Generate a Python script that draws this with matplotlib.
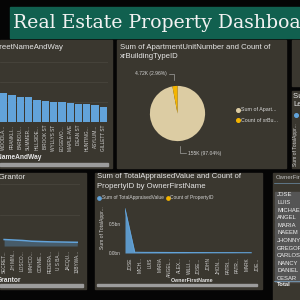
import numpy as np
import matplotlib
matplotlib.use('Agg')
import matplotlib.pyplot as plt
from matplotlib.patches import Rectangle
from matplotlib.lines import Line2D

plt.rcParams['font.family'] = ['Liberation Sans', 'DejaVu Sans']

# data
ruas = ['WOODLA...', 'FRANKLI...', 'BARBOU...', 'SUMMER...', 'HILLSIDE...', 'BROOK ST',
        'WYLLYS ST', 'EDGEWO...', 'MAPLE AVE', 'DEAN ST', 'HUNTING...', 'ASYLUM...', 'GILLETT ST']
contagem_ruas = [58, 54, 51, 50, 44, 43, 41, 40, 38, 37, 36, 34, 31]

grantor = ['SECRET...', 'JH MIN...', 'LOSCO...', 'MAHCO...', 'CONNE...', 'FEDERA...',
           'U S BA...', 'JACQU...', '13BYWA...']
valores_grantor = [4.2, 3.9, 3.6, 3.1, 2.9, 2.7, 2.6, 2.5, 2.4]

pizza_nomes = ['Sum of Apart...', 'Count of xrBu...']
pizza_valores = [155000, 4720]
pizza_rotulos = ['155K (97.04%)', '4.72K (2.96%)']

donos = ['JOSE', 'MICH...', 'LUIS', 'MARIA', 'ANGEL...', 'ALEX...', 'WILLI...', 'JOSE...',
         'JOHN', 'JHON...', 'PATRI...', 'PATR...', 'MARK', 'JOE...']
valor_avaliado = [0.75, 0.012, 0.010, 0.010, 0.009, 0.008, 0.008, 0.007,
                  0.007, 0.006, 0.006, 0.006, 0.005, 0.005]

tabela_nomes = ['JOSE', 'LUIS', 'MICHAEL', 'ANGEL', 'MARIA', 'NAEEM', 'JHONNY',
                'GREGORY', 'CARLOS', 'NANCY', 'DANIEL', 'CESAR']

W = H = 300
fundo = '#050505'
painel = '#3a372f'
texto = '#e6e6e6'
azul = '#62a3da'
laranja = '#f4b400'


def px(x0, y0, x1, y1):
    return [x0 / W, 1 - y1 / H, (x1 - x0) / W, (y1 - y0) / H]


def caixa(x0, y0, x1, y1, cor=painel):
    fig.patches.append(Rectangle((x0 / W, 1 - y1 / H), (x1 - x0) / W, (y1 - y0) / H,
                                 transform=fig.transFigure, color=cor, zorder=-5))


def txt(x, y, s, size=5.6, **kw):
    kw.setdefault('color', texto)
    kw.setdefault('va', 'center')
    fig.text(x / W, 1 - y / H, s, fontsize=size, **kw)


fig = plt.figure(figsize=(3, 3), dpi=100, facecolor=fundo)

# banner
caixa(10, 7, 300, 38, '#11604f')
txt(13, 22.5, 'Real Estate Property Dashboard', size=13.6, family='DejaVu Serif', color='#f2f2f2')

# panels
caixa(0, 40, 112, 168)
caixa(117, 40, 286, 168)
caixa(292, 40, 300, 86)
caixa(292, 91, 300, 168)
caixa(0, 173, 86, 289)
caixa(95, 173, 262, 289)
caixa(273, 173, 300, 300)

# ---- top left: bars by street
ax1 = fig.add_axes(px(0, 60, 108, 122))
ax1.bar(np.arange(len(ruas)), contagem_ruas, width=0.88, color=azul)
ax1.set_xlim(-0.45, len(ruas) - 0.45)
ax1.set_ylim(0, 124)
ax1.set_yticks([40, 80, 120])
ax1.grid(axis='y', color='#4a473f', linewidth=0.5)
ax1.set_axisbelow(True)
ax1.set_xticks(np.arange(len(ruas)))
ax1.set_xticklabels(ruas, rotation=90, fontsize=3.4, color='#cfcfcf')
ax1.tick_params(length=0, pad=2, labelleft=False)
ax1.set_facecolor('none')
for s in ax1.spines.values():
    s.set_visible(False)
txt(63, 47.5, 'Count of Parcels by StreetNameAndWay', ha='right')
txt(42, 158, 'StreetNameAndWay', size=4.8, ha='right', weight='bold')
caixa(0, 163, 108, 165.5, '#9c9c9c')

# ---- pie
ax2 = fig.add_axes(px(143, 79, 212, 148))
ax2.pie(pizza_valores, colors=['#dccca3', laranja], startangle=90, counterclock=False,
        wedgeprops=dict(linewidth=0))
ax2.set_aspect('equal')
txt(120, 47.5, 'Sum of ApartmentUnitNumber and Count of', ha='left')
txt(120, 56.5, 'xrBuildingTypeID', ha='left')
txt(135, 73.5, pizza_rotulos[1], size=3.6, ha='left', color='#d0d0d0')
txt(188, 153, pizza_rotulos[0], size=3.6, ha='left', color='#d0d0d0')
fig.add_artist(Line2D([169 / W, 174 / W, 174 / W], [1 - 73.5 / H, 1 - 73.5 / H, 1 - 80 / H],
                      color='#bbbbbb', lw=0.4))
fig.add_artist(Line2D([180 / W, 180 / W, 186 / W], [1 - 146 / H, 1 - 153 / H, 1 - 153 / H],
                      color='#bbbbbb', lw=0.4))
for i, (nome, cor) in enumerate(zip(pizza_nomes, ['#dccca3', laranja])):
    y = 110 + i * 10
    fig.add_artist(Line2D([238 / W], [1 - y / H], marker='o', markersize=2.6, color=cor, lw=0))
    txt(241, y, nome, size=3.8, ha='left', color='#d8d8d8')

# ---- right edge panel
txt(293, 97, 'Sum of TotalAppraisedValue', ha='left')
txt(293, 105, 'Legend', ha='left')
fig.add_artist(Line2D([296 / W], [1 - 115 / H], marker='o', markersize=2.6, color=azul, lw=0))
txt(296, 145, 'Sum of TotalAppr...', size=3.6, ha='center', rotation=90, color='#d0d0d0')

# ---- bottom left: grantor line
ax3 = fig.add_axes(px(0, 172, 80, 246))
xg = np.arange(len(grantor))
ax3.fill_between(xg, valores_grantor, color=azul, alpha=0.35, lw=0)
ax3.plot(xg, valores_grantor, color=azul, lw=1.1)
ax3.set_xlim(-0.45, len(grantor) - 0.7)
ax3.set_ylim(0, 48)
ax3.set_yticks([20, 40])
ax3.grid(axis='y', color='#4a473f', linewidth=0.5)
ax3.set_xticks(xg)
ax3.set_xticklabels(grantor, rotation=90, fontsize=3.4, color='#cfcfcf')
ax3.tick_params(length=0, pad=3, labelleft=False)
ax3.set_facecolor('none')
for s in ax3.spines.values():
    s.set_visible(False)
txt(25, 177.5, 'Count of Parcels by Grantor', ha='right')
txt(21, 280, 'Grantor', size=4.8, ha='right', weight='bold')
caixa(0, 284, 83, 286.5, '#9c9c9c')

# ---- bottom middle: appraised value by owner
ax4 = fig.add_axes(px(125, 203, 257, 253))
xo = np.arange(len(donos))
ax4.fill_between(xo, valor_avaliado, color=azul, alpha=0.9, lw=0)
ax4.plot(xo, valor_avaliado, color=azul, lw=0.8)
ax4.axhline(0, color=azul, lw=0.5, ls=':')
ax4.set_xlim(0, len(donos) - 1 + 0.4)
ax4.set_ylim(0, 0.85)
ax4.set_yticks([0, 0.5])
ax4.set_yticklabels(['0.0bn', '0.5bn'], fontsize=3.4, color='#cfcfcf')
ax4.set_xticks(xo + 0.6)
ax4.set_xticklabels(donos, rotation=90, fontsize=3.4, color='#cfcfcf')
ax4.tick_params(length=0, pad=3)
ax4.set_facecolor('none')
for s in ax4.spines.values():
    s.set_visible(False)
ax4.set_ylabel('Sum of TotalAppr...', fontsize=3.6, color='#d0d0d0', labelpad=3)
txt(97, 177, 'Sum of TotalAppraisedValue and Count of', ha='left')
txt(97, 186, 'PropertyID by OwnerFirstName', ha='left')
fig.add_artist(Line2D([99 / W], [1 - 198 / H], marker='o', markersize=2.4, color=azul, lw=0))
txt(101.5, 198, 'Sum of TotalAppraisedValue', size=3.5, ha='left', color='#d0d0d0')
fig.add_artist(Line2D([168 / W], [1 - 198 / H], marker='o', markersize=2.4, color=laranja, lw=0))
txt(170.5, 198, 'Count of PropertyID', size=3.5, ha='left', color='#d0d0d0')
txt(192, 281, 'OwnerFirstName', size=3.8, ha='center', weight='bold')
caixa(97, 283.5, 257, 286, '#9c9c9c')

# ---- table
txt(276, 177.5, 'OwnerFirstName', size=4.3, ha='left', color='#bfbfbf')
fig.add_artist(Line2D([274 / W, 300 / W], [1 - 183 / H, 1 - 183 / H], color='#7aa6c8', lw=0.4))
for i, nome in enumerate(tabela_nomes):
    y = 195 + i * 7.6
    caixa(275, y - 3.3, 300, y + 3.3, '#555555')
    txt(277, y, nome, size=4.2, ha='left', color='#f0f0f0')
fig.add_artist(Line2D([274 / W, 300 / W], [1 - 281 / H, 1 - 281 / H], color='#7aa6c8', lw=0.5))
txt(277, 285, 'Total', size=4.2, ha='left', weight='bold', color='#f0f0f0')

fig.savefig('out.png', dpi=100, facecolor=fundo)
